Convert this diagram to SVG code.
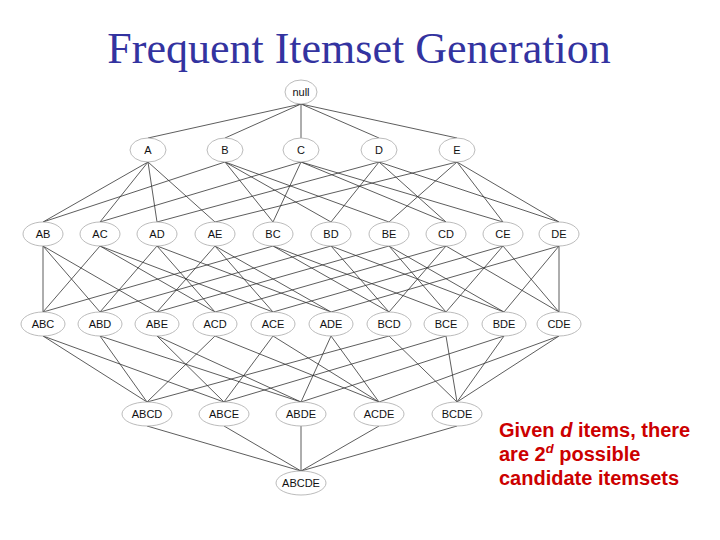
<svg xmlns="http://www.w3.org/2000/svg" width="720" height="540" viewBox="0 0 720 540">
<style>
.e line{stroke:#333;stroke-width:0.8}
.n ellipse{fill:#fff;stroke:#aaa;stroke-width:0.8}
.n text{font-family:"Liberation Sans",Arial,sans-serif;font-size:11px;fill:#111;text-anchor:middle;dominant-baseline:central}
.title{font-family:"Liberation Serif","Times New Roman",serif;font-size:44px;fill:#3333a0;text-anchor:middle}
.note{font-family:"Liberation Sans",Arial,sans-serif;font-size:20px;font-weight:bold;fill:#cc0000}
</style>
<rect width="720" height="540" fill="#fff"/>
<text class="title" x="359" y="63">Frequent Itemset Generation</text>
<g id="connectors" class="e">
<line x1="301" y1="104" x2="148" y2="138"/><line x1="301" y1="104" x2="225" y2="138"/><line x1="301" y1="104" x2="301" y2="138"/><line x1="301" y1="104" x2="379" y2="138"/><line x1="301" y1="104" x2="457" y2="138"/>
<line x1="148" y1="162" x2="43" y2="222"/><line x1="148" y1="162" x2="100" y2="222"/><line x1="148" y1="162" x2="157" y2="222"/><line x1="148" y1="162" x2="215" y2="222"/>
<line x1="225" y1="162" x2="43" y2="222"/><line x1="225" y1="162" x2="273" y2="222"/><line x1="225" y1="162" x2="331" y2="222"/><line x1="225" y1="162" x2="389" y2="222"/>
<line x1="301" y1="162" x2="100" y2="222"/><line x1="301" y1="162" x2="273" y2="222"/><line x1="301" y1="162" x2="446" y2="222"/><line x1="301" y1="162" x2="503" y2="222"/>
<line x1="379" y1="162" x2="157" y2="222"/><line x1="379" y1="162" x2="331" y2="222"/><line x1="379" y1="162" x2="446" y2="222"/><line x1="379" y1="162" x2="559" y2="222"/>
<line x1="457" y1="162" x2="215" y2="222"/><line x1="457" y1="162" x2="389" y2="222"/><line x1="457" y1="162" x2="503" y2="222"/><line x1="457" y1="162" x2="559" y2="222"/>
<line x1="43" y1="246" x2="43" y2="312"/><line x1="43" y1="246" x2="100" y2="312"/><line x1="43" y1="246" x2="157" y2="312"/>
<line x1="100" y1="246" x2="43" y2="312"/><line x1="100" y1="246" x2="215" y2="312"/><line x1="100" y1="246" x2="273" y2="312"/>
<line x1="157" y1="246" x2="100" y2="312"/><line x1="157" y1="246" x2="215" y2="312"/><line x1="157" y1="246" x2="331" y2="312"/>
<line x1="215" y1="246" x2="157" y2="312"/><line x1="215" y1="246" x2="273" y2="312"/><line x1="215" y1="246" x2="331" y2="312"/>
<line x1="273" y1="246" x2="43" y2="312"/><line x1="273" y1="246" x2="389" y2="312"/><line x1="273" y1="246" x2="446" y2="312"/>
<line x1="331" y1="246" x2="100" y2="312"/><line x1="331" y1="246" x2="389" y2="312"/><line x1="331" y1="246" x2="504" y2="312"/>
<line x1="389" y1="246" x2="157" y2="312"/><line x1="389" y1="246" x2="446" y2="312"/><line x1="389" y1="246" x2="504" y2="312"/>
<line x1="446" y1="246" x2="215" y2="312"/><line x1="446" y1="246" x2="389" y2="312"/><line x1="446" y1="246" x2="559" y2="312"/>
<line x1="503" y1="246" x2="273" y2="312"/><line x1="503" y1="246" x2="446" y2="312"/><line x1="503" y1="246" x2="559" y2="312"/>
<line x1="559" y1="246" x2="331" y2="312"/><line x1="559" y1="246" x2="504" y2="312"/><line x1="559" y1="246" x2="559" y2="312"/>
<line x1="43" y1="336" x2="147" y2="402"/><line x1="43" y1="336" x2="224" y2="402"/>
<line x1="100" y1="336" x2="147" y2="402"/><line x1="100" y1="336" x2="301" y2="402"/>
<line x1="157" y1="336" x2="224" y2="402"/><line x1="157" y1="336" x2="301" y2="402"/>
<line x1="215" y1="336" x2="147" y2="402"/><line x1="215" y1="336" x2="379" y2="402"/>
<line x1="273" y1="336" x2="224" y2="402"/><line x1="273" y1="336" x2="379" y2="402"/>
<line x1="331" y1="336" x2="301" y2="402"/><line x1="331" y1="336" x2="379" y2="402"/>
<line x1="389" y1="336" x2="147" y2="402"/><line x1="389" y1="336" x2="457" y2="402"/>
<line x1="446" y1="336" x2="224" y2="402"/><line x1="446" y1="336" x2="457" y2="402"/>
<line x1="504" y1="336" x2="301" y2="402"/><line x1="504" y1="336" x2="457" y2="402"/>
<line x1="559" y1="336" x2="379" y2="402"/><line x1="559" y1="336" x2="457" y2="402"/>
<line x1="147" y1="426" x2="301" y2="471"/><line x1="224" y1="426" x2="301" y2="471"/><line x1="301" y1="426" x2="301" y2="471"/><line x1="379" y1="426" x2="301" y2="471"/><line x1="457" y1="426" x2="301" y2="471"/>
</g>
<g class="n">
<g id="null"><ellipse cx="301" cy="92" rx="16" ry="12"/><text x="301" y="92">null</text></g>
<g id="A"><ellipse cx="148" cy="150" rx="18" ry="12"/><text x="148" y="150">A</text></g>
<g id="B"><ellipse cx="225" cy="150" rx="18" ry="12"/><text x="225" y="150">B</text></g>
<g id="C"><ellipse cx="301" cy="150" rx="18" ry="12"/><text x="301" y="150">C</text></g>
<g id="D"><ellipse cx="379" cy="150" rx="18" ry="12"/><text x="379" y="150">D</text></g>
<g id="E"><ellipse cx="457" cy="150" rx="18" ry="12"/><text x="457" y="150">E</text></g>
<g id="AB"><ellipse cx="43" cy="234" rx="20" ry="12"/><text x="43" y="234">AB</text></g>
<g id="AC"><ellipse cx="100" cy="234" rx="20" ry="12"/><text x="100" y="234">AC</text></g>
<g id="AD"><ellipse cx="157" cy="234" rx="20" ry="12"/><text x="157" y="234">AD</text></g>
<g id="AE"><ellipse cx="215" cy="234" rx="20" ry="12"/><text x="215" y="234">AE</text></g>
<g id="BC"><ellipse cx="273" cy="234" rx="20" ry="12"/><text x="273" y="234">BC</text></g>
<g id="BD"><ellipse cx="331" cy="234" rx="20" ry="12"/><text x="331" y="234">BD</text></g>
<g id="BE"><ellipse cx="389" cy="234" rx="20" ry="12"/><text x="389" y="234">BE</text></g>
<g id="CD"><ellipse cx="446" cy="234" rx="20" ry="12"/><text x="446" y="234">CD</text></g>
<g id="CE"><ellipse cx="503" cy="234" rx="20" ry="12"/><text x="503" y="234">CE</text></g>
<g id="DE"><ellipse cx="559" cy="234" rx="20" ry="12"/><text x="559" y="234">DE</text></g>
<g id="ABC"><ellipse cx="43" cy="324" rx="22" ry="12"/><text x="43" y="324">ABC</text></g>
<g id="ABD"><ellipse cx="100" cy="324" rx="22" ry="12"/><text x="100" y="324">ABD</text></g>
<g id="ABE"><ellipse cx="157" cy="324" rx="22" ry="12"/><text x="157" y="324">ABE</text></g>
<g id="ACD"><ellipse cx="215" cy="324" rx="22" ry="12"/><text x="215" y="324">ACD</text></g>
<g id="ACE"><ellipse cx="273" cy="324" rx="22" ry="12"/><text x="273" y="324">ACE</text></g>
<g id="ADE"><ellipse cx="331" cy="324" rx="22" ry="12"/><text x="331" y="324">ADE</text></g>
<g id="BCD"><ellipse cx="389" cy="324" rx="22" ry="12"/><text x="389" y="324">BCD</text></g>
<g id="BCE"><ellipse cx="446" cy="324" rx="22" ry="12"/><text x="446" y="324">BCE</text></g>
<g id="BDE"><ellipse cx="504" cy="324" rx="22" ry="12"/><text x="504" y="324">BDE</text></g>
<g id="CDE"><ellipse cx="559" cy="324" rx="22" ry="12"/><text x="559" y="324">CDE</text></g>
<g id="ABCD"><ellipse cx="147" cy="414" rx="25" ry="12"/><text x="147" y="414">ABCD</text></g>
<g id="ABCE"><ellipse cx="224" cy="414" rx="25" ry="12"/><text x="224" y="414">ABCE</text></g>
<g id="ABDE"><ellipse cx="301" cy="414" rx="25" ry="12"/><text x="301" y="414">ABDE</text></g>
<g id="ACDE"><ellipse cx="379" cy="414" rx="25" ry="12"/><text x="379" y="414">ACDE</text></g>
<g id="BCDE"><ellipse cx="457" cy="414" rx="25" ry="12"/><text x="457" y="414">BCDE</text></g>
<g id="ABCDE"><ellipse cx="301" cy="483" rx="25" ry="12"/><text x="301" y="483">ABCDE</text></g>
</g>
<g id="note">
<text class="note" x="499" y="437">Given <tspan font-style="italic">d</tspan> items, there</text>
<text class="note" x="499" y="461">are 2<tspan font-size="13px" dy="-8" font-style="italic">d</tspan><tspan dy="8"> possible</tspan></text>
<text class="note" x="499" y="485">candidate itemsets</text>
</g>
</svg>
